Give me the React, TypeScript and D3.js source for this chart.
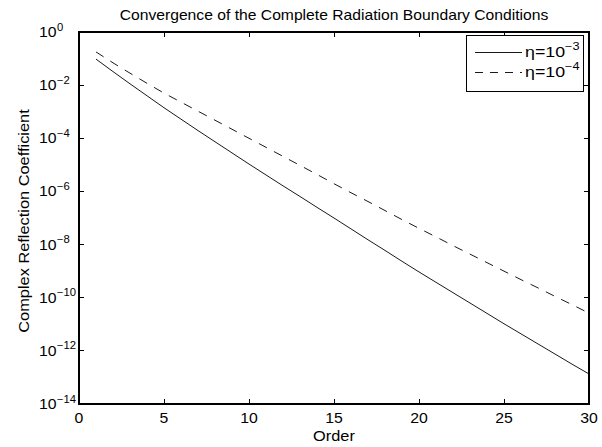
import React from "react";
import * as d3 from "d3";

const orders = [1,2,3,4,5,6,7,8,9,10,11,12,13,14,15,16,17,18,19,20,21,22,23,24,25,26,27,28,29,30];
// log10 of reflection coefficient
const eta3Log = [-1.02,-1.49,-1.95,-2.40,-2.85,-3.28,-3.71,-4.13,-4.55,-4.97,-5.38,-5.79,-6.19,-6.60,-7.00,-7.41,-7.82,-8.22,-8.63,-9.03,-9.42,-9.81,-10.20,-10.59,-10.98,-11.36,-11.74,-12.12,-12.50,-12.87];
const eta4Log = [-0.75,-1.16,-1.55,-1.93,-2.30,-2.64,-2.98,-3.32,-3.66,-4.00,-4.34,-4.68,-5.02,-5.36,-5.71,-6.05,-6.38,-6.72,-7.06,-7.39,-7.71,-8.04,-8.36,-8.68,-9.00,-9.32,-9.63,-9.95,-10.26,-10.58];
const xTicks = [0,5,10,15,20,25,30];
const yTickExps = [0,-2,-4,-6,-8,-10,-12,-14];
const seriesLabels = ["−3", "−4"];

const W = 602, H = 447;
const L = 79, R = 589, T = 32, B = 404;
const FONT = "'Liberation Sans', Arial, Helvetica, sans-serif";

function ST(props: { x: number; y: number; size: number; anchor?: string; sx?: number; rot?: number; children: React.ReactNode }) {
  const { x, y, size, anchor = "start", sx = 1.13, rot = 0 } = props;
  return (
    <text
      transform={`translate(${x},${y})${rot ? ` rotate(${rot})` : ""} scale(${sx},1)`}
      textAnchor={anchor as any}
      fontSize={size}
      fill="#000"
    >
      {props.children}
    </text>
  );
}

export default function App() {
  const x = d3.scaleLinear().domain([0, 30]).range([L, R]);
  const y = d3.scaleLog().domain([1e-14, 1]).range([B, T]);
  const line = d3.line<[number, number]>().x(d => x(d[0])).y(d => y(d[1]));
  const s3 = line(orders.map((o, i) => [o, Math.pow(10, eta3Log[i])] as [number, number])) || "";
  const s4 = line(orders.map((o, i) => [o, Math.pow(10, eta4Log[i])] as [number, number])) || "";
  const tl = 5;
  const lgX = 466, lgY = 35, lgW = 117, lgH = 56;
  return (
    <svg width={W} height={H} style={{ position: "absolute", left: 0, top: 0, background: "#fff" }} fontFamily={FONT}>
      <rect x={0} y={0} width={W} height={H} fill="#fff" />
      <ST x={(L + R) / 2} y={20} size={14} anchor="middle" sx={1.12}>Convergence of the Complete Radiation Boundary Conditions</ST>
      {/* ticks */}
      <g stroke="#000" strokeWidth={1} shapeRendering="crispEdges">
        {xTicks.map(t => (
          <g key={"xt" + t}>
            <line x1={x(t)} x2={x(t)} y1={B} y2={B - tl} />
            <line x1={x(t)} x2={x(t)} y1={T} y2={T + tl} />
          </g>
        ))}
        {yTickExps.map(e => (
          <g key={"yt" + e}>
            <line x1={L} x2={L + tl} y1={y(Math.pow(10, e))} y2={y(Math.pow(10, e))} />
            <line x1={R} x2={R - tl} y1={y(Math.pow(10, e))} y2={y(Math.pow(10, e))} />
          </g>
        ))}
      </g>
      {xTicks.map(t => (
        <ST key={"xl" + t} x={x(t)} y={423} size={14} anchor="middle">{t}</ST>
      ))}
      {yTickExps.map(e => {
        const yy = y(Math.pow(10, e));
        const expStr = e === 0 ? "0" : "−" + String(-e);
        return (
          <g key={"yl" + e}>
            <ST x={56.5} y={yy + 5} size={14} anchor="end">10</ST>
            <ST x={57} y={yy - 1.5} size={10}>{expStr}</ST>
          </g>
        );
      })}
      <ST x={(L + R) / 2} y={441} size={14} anchor="middle" sx={1.17}>Order</ST>
      <ST x={28.5} y={(T + B) / 2 + 3} size={14} anchor="middle" rot={-90} sx={1.17}>Complex Reflection Coefficient</ST>
      {/* series */}
      <path d={s3} fill="none" stroke="#000" strokeWidth={0.9} />
      <path d={s4} fill="none" stroke="#000" strokeWidth={0.9} strokeDasharray="9,8" />
      {/* frame */}
      <rect x={L} y={T} width={R - L} height={B - T} fill="none" stroke="#000" strokeWidth={1.2} shapeRendering="crispEdges" />
      {/* legend */}
      <rect x={lgX} y={lgY} width={lgW} height={lgH} fill="#fff" stroke="#000" strokeWidth={1} shapeRendering="crispEdges" />
      <line x1={475} x2={522} y1={52.5} y2={52.5} stroke="#000" strokeWidth={0.9} />
      <line x1={475} x2={522} y1={72.5} y2={72.5} stroke="#000" strokeWidth={0.9} strokeDasharray="8,7" />
      {seriesLabels.map((s, i) => (
        <ST key={"lg" + i} x={525} y={57 + i * 20} size={14} sx={1.27}>
          η=10<tspan dy={-7} fontSize={10}>{s}</tspan>
        </ST>
      ))}
    </svg>
  );
}
